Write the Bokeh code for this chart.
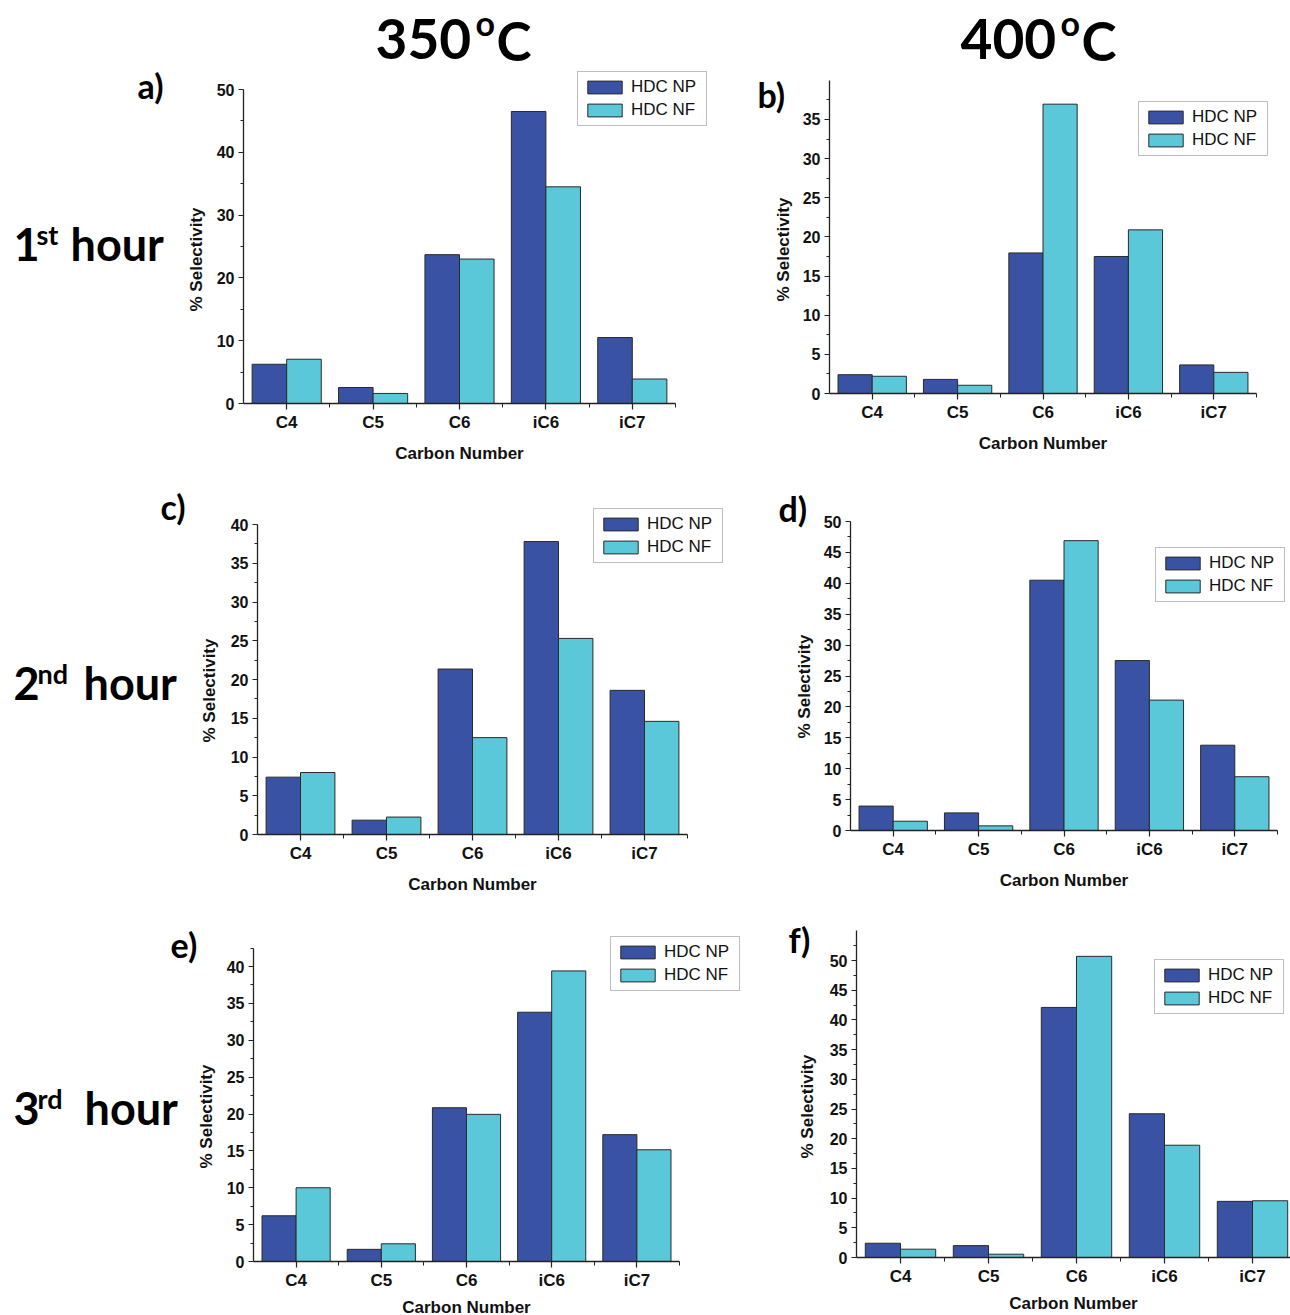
import math
from bokeh.plotting import figure
from bokeh.models import Range1d, FixedTicker, Legend, LegendItem, Label, ColumnDataSource
from bokeh.layouts import row, column
from bokeh.transform import dodge
from bokeh.embed import file_html
from bokeh.resources import INLINE

# ---------------- data ----------------
categories = ["C4", "C5", "C6", "iC6", "iC7"]
series_names = ["HDC NP", "HDC NF"]
temperatures = ["350", "400"]
hours = [("1", "st"), ("2", "nd"), ("3", "rd")]

np_a = [6.25, 2.55, 23.7, 46.5, 10.5]
nf_a = [7.05, 1.6, 23.0, 34.5, 3.9]
np_b = [2.4, 1.8, 17.95, 17.5, 3.65]
nf_b = [2.2, 1.05, 36.95, 20.9, 2.7]
np_c = [7.4, 1.85, 21.35, 37.8, 18.6]
nf_c = [8.0, 2.25, 12.5, 25.3, 14.6]
np_d = [3.95, 2.85, 40.5, 27.5, 13.8]
nf_d = [1.5, 0.75, 46.9, 21.1, 8.7]
np_e = [6.2, 1.65, 20.85, 33.8, 17.2]
nf_e = [10.0, 2.4, 19.95, 39.4, 15.15]
np_f = [2.4, 2.0, 42.1, 24.2, 9.45]
nf_f = [1.4, 0.55, 50.7, 18.9, 9.55]

yticks_a = [0, 10, 20, 30, 40, 50]
yminor_a = [5, 15, 25, 35, 45]
yticks_b = [0, 5, 10, 15, 20, 25, 30, 35]
yminor_b = [2.5, 7.5, 12.5, 17.5, 22.5, 27.5, 32.5, 37.5]
yticks_c = [0, 5, 10, 15, 20, 25, 30, 35, 40]
yminor_c = [2.5, 7.5, 12.5, 17.5, 22.5, 27.5, 32.5, 37.5]
yticks_d = [0, 5, 10, 15, 20, 25, 30, 35, 40, 45, 50]
yminor_d = [2.5, 7.5, 12.5, 17.5, 22.5, 27.5, 32.5, 37.5, 42.5, 47.5]
yticks_e = [0, 5, 10, 15, 20, 25, 30, 35, 40]
yminor_e = [2.5, 7.5, 12.5, 17.5, 22.5, 27.5, 32.5, 37.5, 42.5]
yticks_f = [0, 5, 10, 15, 20, 25, 30, 35, 40, 45, 50]
yminor_f = [2.5, 7.5, 12.5, 17.5, 22.5, 27.5, 32.5, 37.5, 42.5, 47.5, 52.5]
ytop = {"a": 50, "b": 40, "c": 40, "d": 50, "e": 42.5, "f": 55}
y_title = "% Selectivity"
x_title = "Carbon Number"

# ---------------- styles / layout ----------------
NP_COLOR = "#3a52a3"
NF_COLOR = "#5bc8da"
EDGE = "#2a2a2a"
AXIS_FONT = "Liberation Sans"
BIG_FONT = "Lato"
BASE_SHIFT = {BIG_FONT: 0.385, AXIS_FONT: 0.35}

COLS = [(0, 745), (745, 545)]               # (left, width) of figure columns
ROWS = [(0, 480), (480, 430), (910, 405)]   # (top, height) of figure rows

panels = [
    dict(key="a", np=np_a, nf=nf_a, yt=yticks_a, ym=yminor_a, col=0, rw=0,
         origin=(243, 403), cat_px=86.4, unit_px=6.28, leg=(577, 126),
         letter=("a)", 137, 98), ytitle=(196, 259)),
    dict(key="b", np=np_b, nf=nf_b, yt=yticks_b, ym=yminor_b, col=1, rw=0,
         origin=(829, 393), cat_px=85.4, unit_px=7.83, leg=(1138, 156),
         letter=("b)", 757, 107), ytitle=(783, 249)),
    dict(key="c", np=np_c, nf=nf_c, yt=yticks_c, ym=yminor_c, col=0, rw=1,
         origin=(257, 834), cat_px=86.0, unit_px=7.75, leg=(593, 563),
         letter=("c)", 160, 519), ytitle=(209, 690)),
    dict(key="d", np=np_d, nf=nf_d, yt=yticks_d, ym=yminor_d, col=1, rw=1,
         origin=(850, 830), cat_px=85.4, unit_px=6.18, leg=(1155, 602),
         letter=("d)", 778, 521), ytitle=(804, 686)),
    dict(key="e", np=np_e, nf=nf_e, yt=yticks_e, ym=yminor_e, col=0, rw=2,
         origin=(253, 1261), cat_px=85.2, unit_px=7.375, leg=(610, 991),
         letter=("e)", 170, 957), ytitle=(206, 1116)),
    dict(key="f", np=np_f, nf=nf_f, yt=yticks_f, ym=yminor_f, col=1, rw=2,
         origin=(856, 1257), cat_px=88.0, unit_px=5.94, leg=(1154, 1014),
         letter=("f)", 788, 952), ytitle=(807, 1106)),
]


def fig_box(cfg):
    left, w = COLS[cfg["col"]]
    top, h = ROWS[cfg["rw"]]
    return left, top, w, h


def add_text(p, box, text, px, py, size, font=BIG_FONT, bold=True, align="left", color="black"):
    """py is the wanted baseline in page pixels."""
    left, top, w, h = box
    yb = py - BASE_SHIFT[font] * size
    p.add_layout(Label(x=px - left, y=top + h - yb, x_units="screen", y_units="screen", text=text,
                       text_font=font, text_font_size=f"{size}px",
                       text_font_style="bold" if bold else "normal",
                       text_baseline="alphabetic", text_align=align, text_color=color))


def add_vtext(p, box, text, cx, cy, size):
    left, top, w, h = box
    p.add_layout(Label(x=cx - left, y=top + h - cy, x_units="screen", y_units="screen", text=text,
                       angle=math.pi / 2, text_font=AXIS_FONT, text_font_size=f"{size}px",
                       text_font_style="bold", text_baseline="middle", text_align="center",
                       text_color="#111111"))


def make_panel(cfg):
    box = fig_box(cfg)
    left, top, w, h = box
    ox, oy = cfg["origin"]
    cpx, upx = cfg["cat_px"], cfg["unit_px"]
    xr = Range1d(-0.5 - (ox - left) / cpx, -0.5 + (left + w - ox) / cpx)
    yr = Range1d(-(top + h - oy) / upx, (oy - top) / upx)
    p = figure(width=w, height=h, x_range=xr, y_range=yr, title=None,
               output_backend="svg", toolbar_location=None,
               min_border=0, min_border_left=0, min_border_right=0,
               min_border_top=0, min_border_bottom=0)
    p.xgrid.visible = False
    p.ygrid.visible = False
    p.outline_line_color = None
    p.background_fill_color = "white"
    p.border_fill_color = "white"

    idx = list(range(len(categories)))
    src = ColumnDataSource(dict(x=idx, cat=categories, np_v=cfg["np"], nf_v=cfg["nf"]))
    r1 = p.vbar(x=dodge("x", -0.2, range=p.x_range), top="np_v", width=0.4, source=src,
                fill_color=NP_COLOR, line_color=EDGE, line_width=1)
    r2 = p.vbar(x=dodge("x", 0.2, range=p.x_range), top="nf_v", width=0.4, source=src,
                fill_color=NF_COLOR, line_color=EDGE, line_width=1)

    xa = p.xaxis[0]
    xa.fixed_location = 0
    xa.ticker = FixedTicker(ticks=idx, minor_ticks=[i + 0.5 for i in idx])
    xa.major_label_overrides = {i: c for i, c in zip(idx, categories)}
    xa.bounds = (-0.5, len(categories) - 0.5)
    xa.major_tick_out = 6
    xa.major_tick_in = 0
    xa.minor_tick_out = 4
    xa.minor_tick_in = 0
    xa.major_label_standoff = 3
    xa.major_label_text_font = AXIS_FONT
    xa.major_label_text_font_style = "bold"
    xa.major_label_text_font_size = "17px"
    xa.major_label_text_color = "#111111"
    xa.axis_label = x_title
    xa.axis_label_standoff = 9 if cfg["rw"] < 2 else 5
    xa.axis_label_text_font = AXIS_FONT
    xa.axis_label_text_font_style = "bold"
    xa.axis_label_text_font_size = "17px"
    xa.axis_label_text_color = "#111111"

    ya = p.yaxis[0]
    ya.fixed_location = -0.5
    ya.ticker = FixedTicker(ticks=cfg["yt"], minor_ticks=cfg["ym"])
    ya.bounds = (0, ytop[cfg["key"]])
    ya.major_tick_out = 5
    ya.major_tick_in = 0
    ya.minor_tick_out = 3
    ya.minor_tick_in = 0
    ya.major_label_standoff = 4
    ya.major_label_text_font = AXIS_FONT
    ya.major_label_text_font_style = "bold"
    ya.major_label_text_font_size = "16px"
    ya.major_label_text_color = "#111111"

    for ax in (xa, ya):
        ax.axis_line_color = "#222222"
        ax.axis_line_width = 1.3
        ax.major_tick_line_color = "#222222"
        ax.minor_tick_line_color = "#222222"
        ax.major_tick_line_width = 1.2

    # y axis title, placed where the reference shows it
    add_vtext(p, box, y_title, cfg["ytitle"][0], cfg["ytitle"][1], 17)

    lx, ly = cfg["leg"]
    legend = Legend(items=[LegendItem(label=series_names[0], renderers=[r1]),
                           LegendItem(label=series_names[1], renderers=[r2])],
                    location=(lx - left, top + h - ly))
    legend.border_line_color = "#7f7f7f"
    legend.border_line_width = 1.2
    legend.background_fill_color = "white"
    legend.background_fill_alpha = 1.0
    legend.label_text_font = AXIS_FONT
    legend.label_text_font_size = "17px"
    legend.label_text_color = "#111111"
    legend.glyph_width = 43
    legend.glyph_height = 16
    legend.label_height = 16
    legend.label_width = 70
    legend.label_standoff = 5
    legend.padding = 5
    legend.spacing = 3
    legend.margin = 0
    p.add_layout(legend)

    text, lx0, lb = cfg["letter"]
    add_text(p, box, text, lx0, lb, 34)
    return p


figs = {cfg["key"]: make_panel(cfg) for cfg in panels}
boxes = {cfg["key"]: fig_box(cfg) for cfg in panels}

# column headers (temperatures)
for key, t, x0 in (("a", temperatures[0], 375), ("b", temperatures[1], 960)):
    add_text(figs[key], boxes[key], t, x0, 60, 55)
    add_text(figs[key], boxes[key], "o", x0 + 100, 35, 34)
    add_text(figs[key], boxes[key], "C", x0 + 121, 60, 53)

# row labels (hours)
row_pos = [("a", 261, 36, 70), ("c", 700, 37, 83), ("e", 1125, 37, 84)]
for (num, sup), (key, base, supx, hx) in zip(hours, row_pos):
    add_text(figs[key], boxes[key], num, 13, base, 45)
    add_text(figs[key], boxes[key], sup, supx, base - 17, 27)
    add_text(figs[key], boxes[key], "hour", hx, base, 45)

layout = column(row(figs["a"], figs["b"]), row(figs["c"], figs["d"]), row(figs["e"], figs["f"]))

open("out.html", "w").write(file_html(layout, INLINE))
